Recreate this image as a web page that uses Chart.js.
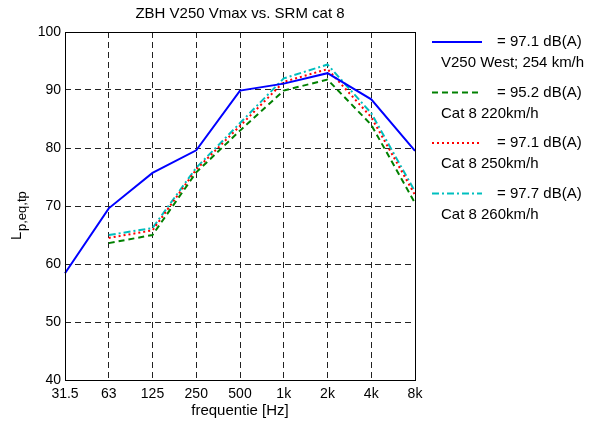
<!DOCTYPE html>
<html>
<head>
<meta charset="utf-8">
<script src="https://cdn.jsdelivr.net/npm/chart.js@4"></script>
<style>
  html, body { margin: 0; padding: 0; background: #fff; }
  #wrap { width: 593px; height: 425px; }
</style>
</head>
<body>
<div id="wrap"><canvas id="c" width="593" height="425"></canvas></div>
<script>
// octave bands
const bands = ['31.5', '63', '125', '250', '500', '1k', '2k', '4k', '8k'];

// levels, dB
const v250West = [58.4, 69.6, 75.7, 79.6, 89.9, 91.1, 92.9, 88.4, 79.5];
const cat8_220 = [null, 63.6, 65.0, 75.8, 83.0, 89.9, 91.8, 84.0, 70.5];
const cat8_250 = [null, 64.5, 65.8, 76.3, 83.8, 91.4, 93.6, 85.3, 71.9];
const cat8_260 = [null, 65.0, 66.2, 76.6, 84.3, 92.0, 94.4, 86.0, 72.5];

const yTicks = [40, 50, 60, 70, 80, 90, 100];

const legendTop = ['= 97.1 dB(A)', '= 95.2 dB(A)', '= 97.1 dB(A)', '= 97.7 dB(A)'];
const legendBottom = ['V250 West; 254 km/h', 'Cat 8 220km/h', 'Cat 8 250km/h', 'Cat 8 260km/h'];

const FONT = 'Liberation Sans, Arial, sans-serif';

const series = [
    { data: v250West, color: '#0000ff', dash: [] },
    { data: cat8_220, color: '#008000', dash: [6, 4] },
    { data: cat8_250, color: '#ff0000', dash: [2, 3] },
    { data: cat8_260, color: '#00bfbf', dash: [7, 3, 2, 3] }
];

// title, y label, frame and legend
const extras = {
    id: 'extras',
    afterDraw(chart) {
        const c = chart.ctx;
        const a = chart.chartArea;
        c.save();
        // frame
        c.strokeStyle = '#000';
        c.lineWidth = 1;
        c.setLineDash([]);
        c.strokeRect(a.left + 0.5, a.top + 0.5, a.right - a.left, a.bottom - a.top);

        // title
        c.fillStyle = '#000';
        c.font = '15px ' + FONT;
        c.textAlign = 'center';
        c.textBaseline = 'middle';
        c.fillText('ZBH V250 Vmax vs. SRM cat 8', (a.left + a.right) / 2, 14);

        // y label with subscript
        c.save();
        c.translate(16, 207);
        c.rotate(-Math.PI / 2);
        c.textAlign = 'left';
        c.textBaseline = 'alphabetic';
        c.font = '15px ' + FONT;
        c.fillText('L', -33, 5);
        c.font = '13px ' + FONT;
        c.fillText('p,eq,tp', -24, 10);
        c.restore();

        // legend
        const x0 = 432, x1 = 482;
        series.forEach((s, i) => {
            const y = 42 + i * 50.5;
            c.strokeStyle = s.color;
            c.lineWidth = 2;
            c.setLineDash(s.dash);
            c.beginPath();
            c.moveTo(x0, y);
            c.lineTo(x1, y);
            c.stroke();
            c.fillStyle = '#000';
            c.font = '15px ' + FONT;
            c.textAlign = 'left';
            c.textBaseline = 'middle';
            c.fillText(legendTop[i], 497, y);
            c.fillText(legendBottom[i], 441, y + 21);
        });
        c.restore();
    }
};

new Chart(document.getElementById('c'), {
    type: 'line',
    data: {
        labels: bands,
        datasets: series.map((s, i) => ({
            label: legendBottom[i],
            data: s.data,
            borderColor: s.color,
            borderWidth: 2,
            borderDash: s.dash,
            pointRadius: 0,
            tension: 0,
            fill: false,
            spanGaps: false
        }))
    },
    options: {
        responsive: false,
        animation: false,
        layout: { padding: { left: 0, right: 178, top: 32, bottom: 0 } },
        plugins: {
            legend: { display: false },
            title: { display: false },
            tooltip: { enabled: false }
        },
        scales: {
            x: {
                offset: false,
                afterFit(scale) { scale.height = 45; },
                grid: {
                    color: '#222',
                    lineWidth: 1,
                    drawTicks: false
                },
                border: { display: false, dash: [6, 4] },
                ticks: {
                    color: '#000',
                    font: { family: FONT, size: 14 },
                    padding: 6,
                    maxRotation: 0,
                    autoSkip: false
                },
                title: {
                    display: true,
                    text: 'frequentie [Hz]',
                    color: '#000',
                    font: { family: FONT, size: 15 },
                    padding: { top: 0, bottom: 5 }
                }
            },
            y: {
                min: 40,
                max: 100,
                afterFit(scale) { scale.width = 65; },
                afterBuildTicks(scale) { scale.ticks = yTicks.map(v => ({ value: v })); },
                grid: {
                    color: '#222',
                    lineWidth: 1,
                    drawTicks: false
                },
                border: { display: false, dash: [6, 4] },
                ticks: {
                    color: '#000',
                    font: { family: FONT, size: 14 },
                    padding: 4
                }
            }
        }
    },
    plugins: [extras]
});
</script>
</body>
</html>
